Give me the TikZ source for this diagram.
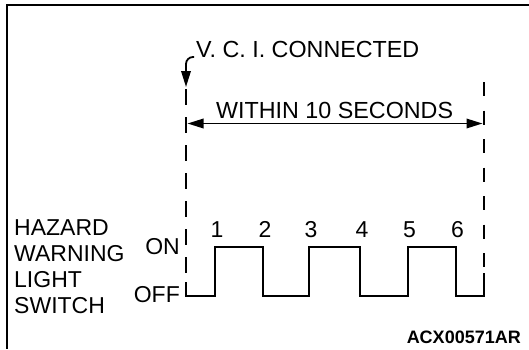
\documentclass[tikz,border=0pt]{standalone}
\usepackage{fontspec}
\setmainfont{Liberation Sans}
\usetikzlibrary{arrows.meta,positioning,calc}
\tikzset{
  >={Triangle[length=16pt,width=9.5pt]},
  every node/.style={inner sep=0pt,font=\fontsize{23}{26}\selectfont},
  lbl/.style={anchor=base west},
  lvl/.style={anchor=base east},
  num/.style={anchor=base},
  tag/.style={anchor=base east,font=\fontsize{18}{20}\selectfont\bfseries},
  frame/.style={line width=2pt},
  guide/.style={line width=2.8pt,dash pattern=on 16pt off 12pt},
  sig/.style={line width=2pt,line join=miter},
  dim/.style={<->,line width=1.8pt,shorten <=1.5pt,shorten >=1.5pt},
  lead/.style={->,line width=1.8pt,rounded corners=7pt},
}

\begin{document}
\begin{tikzpicture}[x=1pt,y=-1pt]
\useasboundingbox (0,0) rectangle (529,349);

% frame
\draw[frame] (529,4.5) -| (6.5,349);

% dashed marks
\coordinate (ltop) at (186,89);
\coordinate (lbot) at (186,279);
\coordinate (rtop) at (484,82);
\coordinate (rbot) at (484,270);
\draw[guide] (ltop) -- (lbot);
\draw[guide,dash pattern=on 14pt off 14.5pt] (rtop) -- (rbot);

% top texts + arrows
\node[lbl,font=\fontsize{23.3}{26}\selectfont] (vci) at (196,57) {V. C. I. CONNECTED};
\coordinate (ltip) at (186,87);
\draw[lead] ([xshift=-2pt]vci.base west) -| (ltip);

\node[lbl,font=\fontsize{23.3}{26}\selectfont] (within) at (216,118.3) {WITHIN 10 SECONDS};
\coordinate (da) at (186,123.5);
\coordinate (db) at (484,123.5);
\draw[dim] (da) -- (db);

% switch labels
\foreach [count=\i] \w in {HAZARD,WARNING,LIGHT,SWITCH}{
  \node[lbl] (sw\i) at (14,{209+26*\i}) {\w};
}
\node[lvl] (on) at (180,254) {ON};
\node[lvl] (off) at (180,302) {OFF};

% signal
\draw[sig] (186,282) |- (215,296) |- (263,247) |- (309,296) |- (360,247)
  |- (407.5,296) |- (455.5,247) |- (484,296) -- (484,273);
\foreach [count=\i] \x in {215,263,309,360,407.5,455.5}{
  \node[num] (n\i) at (\x+2,237) {\i};
}

\node[tag] (code) at (521,343) {ACX00571AR};

\end{tikzpicture}
\end{document}
